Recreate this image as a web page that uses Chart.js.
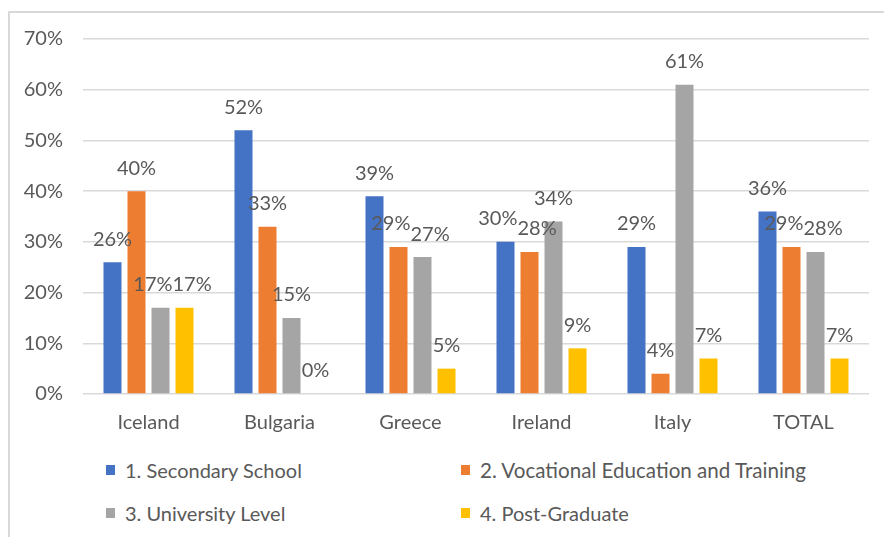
<!DOCTYPE html>
<html>
<head>
<meta charset="utf-8">
<script src="https://cdn.jsdelivr.net/npm/chart.js@4/dist/chart.umd.min.js"></script>
<style>
  html, body { margin: 0; padding: 0; background: #fff; overflow: hidden; }
  #wrap { position: relative; width: 884px; height: 537px; overflow: hidden; }
  #frame {
    position: absolute; left: 8px; top: 11px; width: 900px; height: 600px;
    border: 2px solid #d9d9d9; box-sizing: border-box;
  }
  #chartBox { position: absolute; left: 0; top: 0; width: 884px; height: 440px; }
  #legend {
    position: absolute; left: 106px; top: 458px;
    display: grid; grid-template-columns: 355px 360px; row-gap: 19px;
    font-family: Lato, sans-serif; font-size: 20px; color: #595959;
  }
  .item { display: flex; align-items: center; height: 24px; white-space: nowrap; }
  .swatch { width: 9px; height: 10px; margin-right: 10px; }
  .wide { font-size: 20.6px; }
</style>
</head>
<body>
<div id="wrap">
  <div id="frame"></div>
  <div id="chartBox"><canvas id="eduChart" width="884" height="440"></canvas></div>
  <div id="legend"></div>
</div>
<script>
const countries = ['Iceland', 'Bulgaria', 'Greece', 'Ireland', 'Italy', 'TOTAL'];
const yTicks = [0, 10, 20, 30, 40, 50, 60, 70];

const secondarySchool = [26, 52, 39, 30, 29, 36];
const vocationalTraining = [40, 33, 29, 28, 4, 29];
const universityLevel = [17, 15, 27, 34, 61, 28];
const postGraduate = [17, 0, 5, 9, 7, 7];

const seriesNames = [
    '1. Secondary School',
    '2. Vocational Education and Training',
    '3. University Level',
    '4. Post-Graduate'
];
const seriesColors = ['#4472C4', '#ED7D31', '#A5A5A5', '#FFC000'];
const seriesData = [secondarySchool, vocationalTraining, universityLevel, postGraduate];

const FONT = 'Lato, sans-serif';
const TEXT_GREY = '#595959';

// value labels above each bar; neighbours on the same level get pushed apart
const barLabels = {
    id: 'barLabels',
    afterDatasetsDraw(chart) {
        const ctx = chart.ctx;
        ctx.save();
        ctx.font = '20px ' + FONT;
        ctx.fillStyle = TEXT_GREY;
        ctx.textAlign = 'center';
        ctx.textBaseline = 'middle';
        const n = chart.data.labels.length;
        for (let j = 0; j < n; j++) {
            const labels = chart.data.datasets.map((ds, i) => {
                const bar = chart.getDatasetMeta(i).data[j];
                const text = ds.data[j] + '%';
                return { text, x: bar.x, y: bar.y - 23, w: ctx.measureText(text).width };
            });
            for (let i = 0; i < labels.length - 1; i++) {
                const a = labels[i], b = labels[i + 1];
                if (Math.abs(a.y - b.y) >= 12) continue;
                const overlap = (a.x + a.w / 2) - (b.x - b.w / 2);
                if (overlap > 0) {
                    a.x -= overlap / 2;
                    b.x += overlap / 2;
                }
            }
            labels.forEach(l => ctx.fillText(l.text, l.x, l.y));
        }
        ctx.restore();
    }
};

const ctx = document.getElementById('eduChart').getContext('2d');

const chart = new Chart(ctx, {
    type: 'bar',
    data: {
        labels: countries,
        datasets: seriesData.map((d, i) => ({
            label: seriesNames[i],
            data: d,
            backgroundColor: seriesColors[i],
            borderWidth: 0,
            categoryPercentage: 0.733,
            barPercentage: 0.75
        }))
    },
    options: {
        responsive: false,
        animation: false,
        layout: {
            padding: { top: 39, right: 15, bottom: 0, left: 0 }
        },
        plugins: {
            legend: { display: false },
            tooltip: { enabled: false }
        },
        scales: {
            x: {
                grid: { display: false },
                border: { display: false },
                ticks: {
                    color: TEXT_GREY,
                    font: { family: FONT, size: 20 },
                    padding: 9
                },
                afterFit: (scale) => { scale.height = 46; }
            },
            y: {
                min: 0,
                max: 70,
                afterBuildTicks: (scale) => { scale.ticks = yTicks.map(v => ({ value: v })); },
                grid: { color: '#d9d9d9', lineWidth: 1.5, drawTicks: false },
                border: { display: false },
                ticks: {
                    color: TEXT_GREY,
                    font: { family: FONT, size: 20 },
                    padding: 20,
                    callback: (v) => v + '%'
                },
                afterFit: (scale) => { scale.width = 83; }
            }
        }
    },
    plugins: [barLabels]
});

// two-column legend under the chart
const legend = document.getElementById('legend');
seriesNames.forEach((name, i) => {
    const item = document.createElement('div');
    item.className = 'item';
    const sw = document.createElement('span');
    sw.className = 'swatch';
    sw.style.background = seriesColors[i];
    const txt = document.createElement('span');
    txt.textContent = name;
    if (i === 1) txt.className = 'wide';
    item.appendChild(sw);
    item.appendChild(txt);
    legend.appendChild(item);
});
</script>
</body>
</html>
